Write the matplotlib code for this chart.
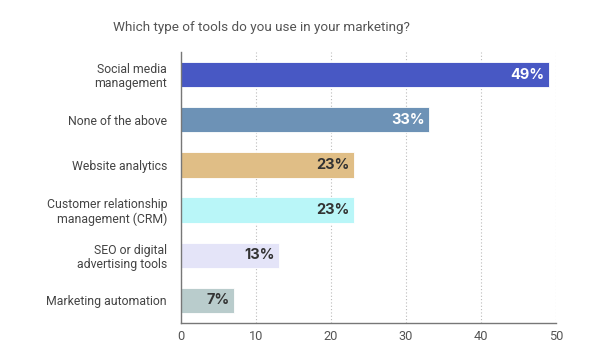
import matplotlib.pyplot as plt
import numpy as np

categories = ["Social media\nmanagement", "None of the above", "Website analytics",
              "Customer relationship\nmanagement (CRM)", "SEO or digital\nadvertising tools",
              "Marketing automation"]
values = [49, 33, 23, 23, 13, 7]
colors = ["#4858c4", "#6d92b6", "#e0be86", "#b9f6f8", "#e4e4f8", "#b9cccc"]
text_colors = ["white", "white", "#333333", "#333333", "#333333", "#333333"]
title = "Which type of tools do you use in your marketing?"

plt.rcParams['font.family'] = ['Roboto', 'DejaVu Sans']

fig = plt.figure(figsize=(6, 3.64), dpi=100)
ax = fig.add_axes([181 / 600, 1 - 323 / 364, (556 - 181) / 600, (323 - 52) / 364])

y = np.arange(len(categories))
ax.barh(y, values, height=0.56, color=colors, edgecolor="white", linewidth=0.6, zorder=2)
for yi, v, tc in zip(y, values, text_colors):
    ax.text(v - 0.5, yi, f"{v}%", ha="right", va="center", color=tc,
            fontsize=10.5, fontweight="bold", family=["Inter", "DejaVu Sans"], zorder=3)

ax.set_yticks(y)
ax.set_yticklabels(categories, fontsize=8.8, color="#444444", linespacing=1.1)
ax.set_ylim(len(categories) - 0.5, -0.5)
ax.set_xlim(0, 50)
ax.set_xticks([0, 10, 20, 30, 40, 50])
ax.tick_params(axis="x", labelsize=9.2, colors="#555555", length=0, pad=5)
ax.tick_params(axis="y", length=0, pad=10)
ax.grid(axis="x", color="#bbbbbb", linestyle=(0, (1, 2)), linewidth=0.8, zorder=1)
ax.set_axisbelow(True)
for s in ["top", "right"]:
    ax.spines[s].set_visible(False)
for s in ["left", "bottom"]:
    ax.spines[s].set_color("#777777")
    ax.spines[s].set_linewidth(1.0)

fig.text(261 / 600, 1 - 27 / 364, title, ha="center", va="center", fontsize=9.7, color="#555555")

fig.savefig("out.png", dpi=100)
